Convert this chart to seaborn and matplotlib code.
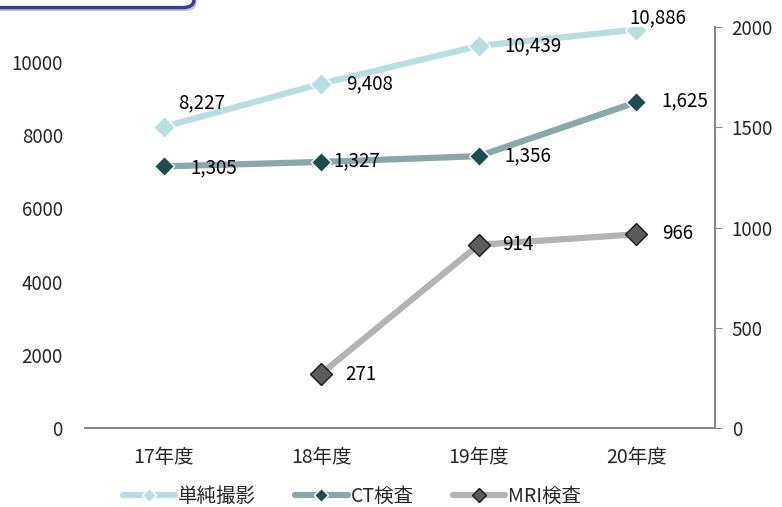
import pandas as pd
import seaborn as sns
import matplotlib.pyplot as plt
from matplotlib.patches import FancyBboxPatch

years = ["17年度", "18年度", "19年度", "20年度"]
simple_xray = [8227, 9408, 10439, 10886]
ct_exam = [1305, 1327, 1356, 1625]
mri_years = ["18年度", "19年度", "20年度"]
mri_exam = [271, 914, 966]

sns.set_style("white")
plt.rcParams['font.family'] = ['Noto Sans CJK JP', 'DejaVu Sans']

df_left = pd.DataFrame({"year": years, "value": simple_xray})
df_ct = pd.DataFrame({"year": years, "value": ct_exam})
df_mri = pd.DataFrame({"year": mri_years, "value": mri_exam})

fig = plt.figure(figsize=(7.82, 5.07), dpi=100)
ax = fig.add_axes([0.1087, 0.1558, 0.8056, 0.7909])
ax2 = ax.twinx()

sns.lineplot(x="year", y="value", data=df_left, ax=ax, color="#b7dfe2", linewidth=4.5,
             marker="D", markersize=11, markeredgecolor="white", markeredgewidth=1,
             label="単純撮影", legend=False, sort=False)
sns.lineplot(x="year", y="value", data=df_ct, ax=ax2, color="#88a8aa", linewidth=4.5,
             marker="D", markersize=10, markerfacecolor="#1f4d4f", markeredgecolor="white",
             markeredgewidth=1, label="CT検査", legend=False, sort=False)
sns.lineplot(x="year", y="value", data=df_mri, ax=ax2, color="#b3b3b3", linewidth=4.5,
             marker="D", markersize=11, markerfacecolor="#5c5c5c", markeredgecolor="#1a1a1a",
             markeredgewidth=1, label="MRI検査", legend=False, sort=False)

ax.set_xlim(-0.5, 3.5)
ax.set_ylim(0, 10956)
ax2.set_ylim(0, 2000)
ax.set_yticks([0, 2000, 4000, 6000, 8000, 10000])
ax2.set_yticks([0, 500, 1000, 1500, 2000])
ax.set_xlabel("")
ax.set_ylabel("")
ax2.set_ylabel("")

for a in (ax, ax2):
    for s in ("top", "left"):
        a.spines[s].set_visible(False)
ax.spines["right"].set_visible(False)
ax2.spines["right"].set_color("#888888")
ax2.spines["right"].set_linewidth(1.5)
ax.spines["bottom"].set_color("#888888")
ax.spines["bottom"].set_linewidth(1.5)
ax2.spines["bottom"].set_visible(False)

ax.tick_params(axis="y", length=0, labelsize=13.5, pad=16)
ax.tick_params(axis="x", length=0, labelsize=14, pad=14)
ax2.tick_params(axis="y", length=5, color="#888888", direction="out", labelsize=13.5, pad=7)

def fmt(v):
    return f"{v:,}"

lbl = dict(fontsize=13.5, color="black")
offs_left = [(38, 24), (48, 0), (54, 0), (22, 12)]
for i, v in enumerate(simple_xray):
    ax.annotate(fmt(v), (i, v), xytext=offs_left[i], textcoords="offset pixels",
                ha="center", va="center", **lbl)
offs_ct = [(50, -1), (36, 1), (49, 0), (49, 1)]
for i, v in enumerate(ct_exam):
    ax2.annotate(fmt(v), (i, v), xytext=offs_ct[i], textcoords="offset pixels",
                 ha="center", va="center", **lbl)
offs_mri = [(40, -1), (39, 0), (41, 1)]
for i, v in enumerate(mri_exam):
    ax2.annotate(fmt(v), (i + 1, v), xytext=offs_mri[i], textcoords="offset pixels",
                 ha="center", va="center", **lbl)

h1, l1 = ax.get_legend_handles_labels()
h2, l2 = ax2.get_legend_handles_labels()
leg = fig.legend(h1 + h2, l1 + l2, loc="lower center", bbox_to_anchor=(0.45, -0.035), ncol=3,
                 frameon=False, fontsize=14, handlelength=2.7, columnspacing=2.0,
                 handletextpad=0.15)
for h in leg.legend_handles:
    h.set_markersize(7)

# cut-off title box at top left
shadow = FancyBboxPatch((-0.017, 0.978), 0.268, 0.05, boxstyle="round,pad=0,rounding_size=0.015",
                        transform=fig.transFigure, facecolor="#c8c8c8", edgecolor="none",
                        zorder=4)
fig.patches.append(shadow)
box = FancyBboxPatch((-0.02, 0.985), 0.268, 0.05, boxstyle="round,pad=0,rounding_size=0.015",
                     transform=fig.transFigure, facecolor="white", edgecolor="#3c3a9c",
                     linewidth=2.5, zorder=5)
fig.patches.append(box)

fig.savefig("out.png", dpi=100)
